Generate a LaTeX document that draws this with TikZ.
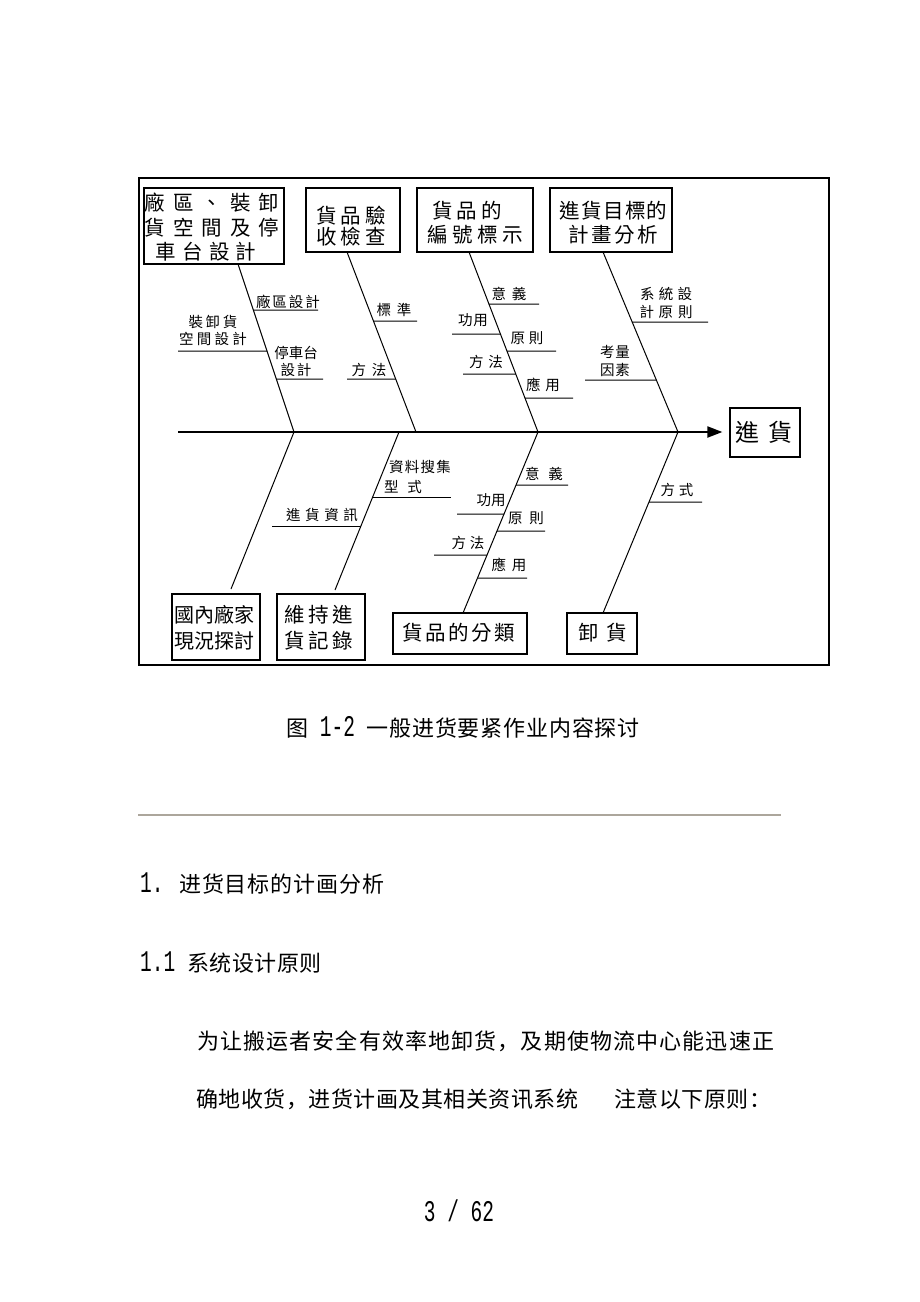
\documentclass[tikz,border=0pt]{standalone}
\usepackage{fontspec}
\usepackage{graphicx}
\usetikzlibrary{arrows.meta,calc}
\newfontfamily\tcf{Noto Sans CJK TC}
\newfontfamily\scf{Noto Sans CJK SC}
\newfontfamily\monof{Liberation Mono}
\definecolor{sepc}{RGB}{172,166,156}
\makeatletter
\newcommand\spr[2]{\makebox[#1][s]{\spr@a#2\relax}}
\def\spr@a#1{#1\futurelet\spr@n\spr@b}
\def\spr@b{\ifx\spr@n\relax\else\hfill\expandafter\spr@a\fi}
\makeatother
\newcommand\dg[1]{\scalebox{0.65}[1]{\monof\fontsize{30}{30}\selectfont #1}}
\tikzset{
  frame/.style={draw, line width=1.5pt},
  box/.style={draw, line width=1.2pt, inner sep=0pt, fill=white},
  btxt/.style={inner sep=0pt, align=center, font=\tcf\fontsize{20.5}{24}\selectfont},
  ltxt/.style={inner sep=0pt, align=center, font=\tcf\fontsize{14.5}{17}\selectfont},
  bone/.style={line width=1pt},
  sub/.style={line width=1pt},
  spine/.style={line width=2pt, -{Triangle[length=15pt,width=11pt]}, shorten >=7pt},
  body/.style={inner sep=0pt, anchor=west, font=\scf\fontsize{22}{22}\selectfont},
}
\begin{document}
\begin{tikzpicture}[x=1pt,y=-1pt]
\fill[white] (0,0) rectangle (920,1302);
\useasboundingbox (0,0) rectangle (920,1302);
\draw[frame] (139,178) rectangle (829,665);
% ---------- boxes ----------
\node[box,minimum width=140pt,minimum height=76pt] (b1) at (214,226) {};
\node[box,minimum width=94pt,minimum height=64pt] (b2) at (353,220) {};
\node[box,minimum width=116pt,minimum height=64pt] (b3) at (475,220) {};
\node[box,minimum width=122pt,minimum height=64pt] (b4) at (611,220) {};
\node[box,minimum width=70pt,minimum height=49pt] (goal) at (765,432.5) {};
\node[box,minimum width=88pt,minimum height=66pt] (b5) at (216,627) {};
\node[box,minimum width=88pt,minimum height=66pt] (b6) at (321,627) {};
\node[box,minimum width=134pt,minimum height=41pt] (b7) at (460,633.5) {};
\node[box,minimum width=70pt,minimum height=41pt] (b8) at (602,633.5) {};
% ---------- box texts ----------
\node[btxt,font=\tcf\fontsize{20.5}{24.5}\selectfont] (b1t) at (212,227.5)
  {\spr{135pt}{廠區、裝卸}\\\spr{135pt}{貨空間及停}\\\makebox[113pt][l]{\spr{101pt}{車台設計}}};
\node[btxt,font=\tcf\fontsize{20.5}{20.5}\selectfont] (b2t) at (351,226)
  {\spr{70pt}{貨品驗}\\\spr{70pt}{收檢查}};
\node[btxt] (b3t) at (475,223)
  {\makebox[86pt][l]{\spr{70pt}{貨品的}}\\\spr{96pt}{編號標示}};
\node[btxt] (b4t) at (613.5,223)
  {\spr{108pt}{進貨目標的}\\\spr{90pt}{計畫分析}};
\node[btxt,font=\tcf\fontsize{24}{24}\selectfont] (goalt) at (764,432) {\spr{58pt}{進貨}};
\node[btxt,font=\tcf\fontsize{20}{26}\selectfont] (b5t) at (214.5,628)
  {\spr{80pt}{國內廠家}\\\spr{80pt}{現況探討}};
\node[btxt,font=\tcf\fontsize{20.5}{26}\selectfont] (b6t) at (318.5,628)
  {\spr{69pt}{維持進}\\\spr{69pt}{貨記錄}};
\node[btxt] (b7t) at (458.5,633) {\spr{113pt}{貨品的分類}};
\node[btxt] (b8t) at (602.5,633) {\spr{49pt}{卸貨}};
% ---------- spine ----------
\coordinate (tail) at (178,432);
\draw[spine] (tail) -- (tail -| goal.west);
% ---------- bone coordinates ----------
\coordinate (t1) at (238,264);  \coordinate (j1) at (294,432);
\coordinate (t2) at (347,252);  \coordinate (j2) at (416,432);
\coordinate (t3) at (469,252);  \coordinate (j3) at (538,432);
\coordinate (t4) at (603,252);  \coordinate (j4) at (678,432);
\coordinate (u5) at (231,589);
\coordinate (j6) at (399,432);  \coordinate (u6) at (335,590);
\coordinate (u7) at (463,613);
\coordinate (u8) at (603,613);
\draw[bone] (t1) -- (j1);
\draw[bone] (t2) -- (j2);
\draw[bone] (t3) -- (j3);
\draw[bone] (t4) -- (j4);
\draw[bone] (j1) -- (u5);
\draw[bone] (j6) -- (u6);
\draw[bone] (j3) -- (u7);
\draw[bone] (j4) -- (u8);
% ---------- sub-bones ----------
% bone 1
\coordinate (p11) at (intersection of t1--j1 and 0,310--1,310);
\coordinate (e11) at (318,310);
\coordinate (p12) at (intersection of t1--j1 and 0,351--1,351);
\coordinate (e12) at (178,351);
\coordinate (p13) at (intersection of t1--j1 and 0,379--1,379);
\coordinate (e13) at (323,379);
\draw[sub] (p11) -- (e11);
\draw[sub] (e12) -- (p12);
\draw[sub] (p13) -- (e13);
% bone 2
\coordinate (p21) at (intersection of t2--j2 and 0,321--1,321);
\coordinate (e21) at (417,321);
\coordinate (p22) at (intersection of t2--j2 and 0,379--1,379);
\coordinate (e22) at (347,379);
\draw[sub] (p21) -- (e21);
\draw[sub] (e22) -- (p22);
% bone 3
\coordinate (p31) at (intersection of t3--j3 and 0,304--1,304);
\coordinate (e31) at (539,304);
\coordinate (p32) at (intersection of t3--j3 and 0,334--1,334);
\coordinate (e32) at (452,334);
\coordinate (p33) at (intersection of t3--j3 and 0,351--1,351);
\coordinate (e33) at (556,351);
\coordinate (p34) at (intersection of t3--j3 and 0,374--1,374);
\coordinate (e34) at (463,374);
\coordinate (p35) at (intersection of t3--j3 and 0,398--1,398);
\coordinate (e35) at (573,398);
\draw[sub] (p31) -- (e31);
\draw[sub] (e32) -- (p32);
\draw[sub] (p33) -- (e33);
\draw[sub] (e34) -- (p34);
\draw[sub] (p35) -- (e35);
% bone 4
\coordinate (p41) at (intersection of t4--j4 and 0,322--1,322);
\coordinate (e41) at (708,322);
\coordinate (p42) at (intersection of t4--j4 and 0,380--1,380);
\coordinate (e42) at (585,380);
\draw[sub] (p41) -- (e41);
\draw[sub] (e42) -- (p42);
% bone 6
\coordinate (p61) at (intersection of j6--u6 and 0,497--1,497);
\coordinate (e61) at (451,497);
\coordinate (p62) at (intersection of j6--u6 and 0,526--1,526);
\coordinate (e62) at (272,526);
\draw[sub] (p61) -- (e61);
\draw[sub] (e62) -- (p62);
% bone 7
\coordinate (p71) at (intersection of j3--u7 and 0,485--1,485);
\coordinate (e71) at (568,485);
\coordinate (p72) at (intersection of j3--u7 and 0,514--1,514);
\coordinate (e72) at (457,514);
\coordinate (p73) at (intersection of j3--u7 and 0,531--1,531);
\coordinate (e73) at (545,531);
\coordinate (p74) at (intersection of j3--u7 and 0,555--1,555);
\coordinate (e74) at (434,555);
\coordinate (p75) at (intersection of j3--u7 and 0,578--1,578);
\coordinate (e75) at (527,578);
\draw[sub] (p71) -- (e71);
\draw[sub] (e72) -- (p72);
\draw[sub] (p73) -- (e73);
\draw[sub] (e74) -- (p74);
\draw[sub] (p75) -- (e75);
% bone 8
\coordinate (p81) at (intersection of j4--u8 and 0,502--1,502);
\coordinate (e81) at (702,502);
\draw[sub] (p81) -- (e81);
% ---------- labels ----------
\node[ltxt] (l11) at (288,302) {\spr{64pt}{廠區設計}};
\node[ltxt] (l12) at (213,330) {\spr{49pt}{裝卸貨}\\\spr{68pt}{空間設計}};
\node[ltxt] (l13) at (296,361.5) {\spr{43.5pt}{停車台}\\\spr{31pt}{設計}};
\node[ltxt] (l21) at (394,310) {\spr{35pt}{標準}};
\node[ltxt] (l22) at (369,369.5) {\spr{35pt}{方法}};
\node[ltxt] (l31) at (509,293.5) {\spr{35pt}{意義}};
\node[ltxt] (l32) at (473,320) {\spr{30pt}{功用}};
\node[ltxt] (l33) at (527,338.5) {\spr{33pt}{原則}};
\node[ltxt] (l34) at (486,361.5) {\spr{34pt}{方法}};
\node[ltxt] (l35) at (543,385) {\spr{34pt}{應用}};
\node[ltxt,font=\tcf\fontsize{14.5}{18}\selectfont] (l41) at (666,302.5) {\spr{52pt}{系統設}\\\spr{53pt}{計原則}};
\node[ltxt,font=\tcf\fontsize{14.5}{18.5}\selectfont] (l42) at (615,361) {\spr{30pt}{考量}\\\spr{30pt}{因素}};
\node[ltxt,font=\tcf\fontsize{14.5}{20}\selectfont] (l61) at (420,476.5) {\spr{62pt}{資料搜集}\\\makebox[72pt][l]{\spr{38pt}{型式}}};
\node[ltxt] (l62) at (322,515) {\spr{72pt}{進貨資訊}};
\node[ltxt] (l71) at (544,473.5) {\spr{38pt}{意義}};
\node[ltxt] (l72) at (491,500) {\spr{29pt}{功用}};
\node[ltxt] (l73) at (526,518.5) {\spr{36pt}{原則}};
\node[ltxt] (l74) at (468,542.5) {\spr{33pt}{方法}};
\node[ltxt] (l75) at (509,565) {\spr{35pt}{應用}};
\node[ltxt] (l81) at (677,490) {\spr{33pt}{方式}};
% ---------- page text ----------
\node[body] (cap) at (286,727) {图\dg{ 1-2 }\spr{273pt}{一般进货要紧作业内容探讨}};
\coordinate (sepa) at (138,815);
\coordinate (sepb) at (781,815);
\draw[sepc, line width=2pt] (sepa) -- (sepb);
\node[body] (h1) at (140,884) {\dg{1. }\spr{205pt}{进货目标的计画分析}};
\node[body] (h2) at (140,963) {\dg{1.1 }\spr{135pt}{系统设计原则}};
\node[body] (p1) at (197,1041) {\spr{577pt}{为让搬运者安全有效率地卸货，及期使物流中心能迅速正}};
\node[body] (p2a) at (196,1099) {\spr{382pt}{确地收货，进货计画及其相关资讯系统}};
\node[body] (p2b) at (614,1099) {\spr{157pt}{注意以下原则：}};
\node[inner sep=0pt] (pg) at (459,1211) {\dg{3 / 62}};
\end{tikzpicture}
\end{document}
